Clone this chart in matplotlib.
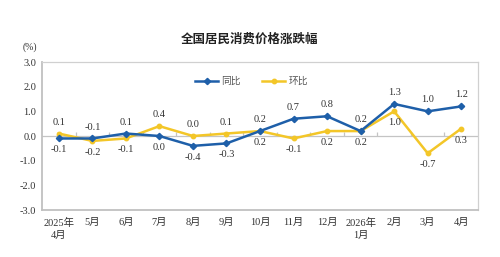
import matplotlib
matplotlib.use("Agg")
import matplotlib.pyplot as plt
import numpy as np

months = ["2025年\n4月", "5月", "6月", "7月", "8月", "9月", "10月", "11月", "12月",
          "2026年\n1月", "2月", "3月", "4月"]
yoy = [-0.1, -0.1, 0.1, 0.0, -0.4, -0.3, 0.2, 0.7, 0.8, 0.2, 1.3, 1.0, 1.2]
mom = [0.1, -0.2, -0.1, 0.4, 0.0, 0.1, 0.2, -0.1, 0.2, 0.2, 1.0, -0.7, 0.3]
yticks = [3.0, 2.0, 1.0, 0.0, -1.0, -2.0, -3.0]

BLUE = "#1e5fa9"
YELLOW = "#f3c628"
GRID = "#c4c4c4"
TXT = "#333333"
serif = ["Liberation Serif", "Noto Sans CJK SC"]
cjk = ["Noto Sans CJK SC", "DejaVu Sans"]

fig = plt.figure(figsize=(5.0, 2.57), dpi=100)
ax = fig.add_axes([42/500, 1 - 210/257, 436/500, 148/257])

x = np.arange(len(months))
ax.plot(x, yoy, color=BLUE, lw=1.8, marker="D", ms=3.2, label="同比", zorder=4)
ax.plot(x, mom, color=YELLOW, lw=1.8, marker="o", ms=3.2, label="环比", zorder=3)

# zero line with small boundary ticks
ax.axhline(0, color=GRID, lw=0.9, zorder=1)
ax.vlines(x[:-1] + 0.5, 0, 0.17, color=GRID, lw=0.9, zorder=1)

for i in range(len(x)):
    a, b = yoy[i], mom[i]
    if a >= b:
        upv, dnv = a, b
    else:
        upv, dnv = b, a
    ax.annotate(f"{upv:.1f}", (x[i], upv), xytext=(0, 5), textcoords="offset points",
                ha="center", va="bottom", fontsize=7.5, color=TXT, family=serif)
    ax.annotate(f"{dnv:.1f}", (x[i], dnv), xytext=(0, -5), textcoords="offset points",
                ha="center", va="top", fontsize=7.5, color=TXT, family=serif)

ax.set_xlim(-0.5, len(months) - 0.5)
ax.set_ylim(-3.0, 3.0)
ax.set_yticks(yticks)
ax.set_yticklabels([f"{v:.1f}" for v in yticks], family=serif, fontsize=7.5, color=TXT)
ax.set_xticks(x)
ax.set_xticklabels(months, family=serif, fontsize=7.5, color=TXT, linespacing=1.3)
ax.tick_params(axis="y", length=0, pad=4)
ax.tick_params(axis="x", length=0, pad=6)

for side in ["top", "right"]:
    ax.spines[side].set_color("#d0d0d0")
    ax.spines[side].set_linewidth(0.9)
for side in ["left", "bottom"]:
    ax.spines[side].set_color("#c0c0c0")
    ax.spines[side].set_linewidth(1.3)

leg = ax.legend(loc="center", bbox_to_anchor=(0.48, 0.87), ncol=2, frameon=False,
                prop={"family": cjk, "size": 7}, handlelength=2.4, columnspacing=2.2,
                handletextpad=0.3, labelcolor="#555555")

fig.text(250/500, 1 - 39/257, "全国居民消费价格涨跌幅", ha="center", va="center",
         fontsize=9, fontweight="bold", family=cjk, color="#222222")
fig.text(30/500, 1 - 47/257, "(%)", ha="center", va="center", fontsize=7,
         family=serif, color=TXT)

fig.savefig("out.png", dpi=100, facecolor="white")
